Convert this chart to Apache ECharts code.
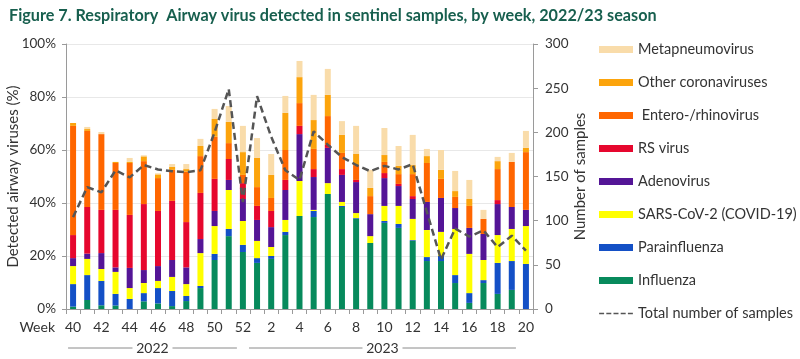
<!DOCTYPE html>
<html><head><meta charset="utf-8">
<script src="https://cdn.jsdelivr.net/npm/echarts@6/dist/echarts.min.js"></script>
<style>html,body{margin:0;padding:0;background:#fff}#c{width:800px;height:359px}</style>
</head><body><div id="c"></div>
<script>
const weeks = ['40','41','42','43','44','45','46','47','48','49','50','51','52','1','2','3','4','5','6','7','8','9','10','11','12','13','14','15','16','17','18','19','20'];
const influenza     = [0.9,3.4,1.4,1.3,0,2.9,2.1,1.1,3.0,7.9,18.5,27.5,21.5,17.4,18.9,27.9,35.1,34.7,43.4,38.5,34.0,24.9,32.5,30.6,25.7,18.1,18.1,9.8,2.3,9.8,5.7,7.2,0];
const parainfluenza = [8.5,9.4,9.2,4.4,3.8,3.1,5.8,5.7,1.9,0.8,2.3,2.7,2.7,1.8,1.1,1.2,0,2.3,0,0.4,0.3,0,0.7,1.5,0.3,1.5,1.9,3.0,3.7,1.1,11.7,10.9,17.0];
const sarsCov2      = [6.8,6.1,4.5,8.3,4.1,3.8,2.7,5.3,4.5,12.4,10.5,14.7,9.0,6.5,3.4,4.5,13.2,0.4,4.1,1.5,1.9,2.6,5.7,6.8,8.0,10.2,9.1,17.4,14.8,7.6,10.5,12.1,14.3];
const adenovirus    = [3.0,2.0,6.0,1.7,7.6,4.9,5.6,6.4,6.3,5.3,5.7,3.8,8.3,7.9,7.5,11.3,17.7,12.4,13.3,10.2,11.7,8.3,10.5,7.5,7.5,10.6,12.8,7.9,9.8,9.8,11.7,8.3,6.1];
const rsVirus       = [8.7,17.6,16.3,21.7,20.0,24.9,20.8,22.3,17.1,17.4,12.1,7.9,6.0,5.3,6.1,3.8,3.1,3.0,1.1,2.2,0.8,0,1.9,0.8,1.1,0,0,0,0,0,1.5,0,0];
const enteroRhino   = [41.2,28.7,28.6,17.7,19.6,16.2,12.4,11.7,19.0,13.9,15.9,6.0,3.1,7.1,4.9,11.3,8.6,7.6,10.9,6.1,5.6,6.8,4.2,3.7,8.3,14.7,7.2,4.2,8.3,5.7,11.7,17.0,21.8];
const otherCorona   = [1.1,0.7,0,0.4,0.4,1.8,1.4,1.1,1.0,3.8,6.7,8.0,8.6,11.0,8.7,14.0,9.8,10.9,8.0,6.8,4.2,3.1,2.6,3.1,3.4,2.6,3.4,2.2,2.6,0,3.0,0,1.6];
const metapneumo    = [0,0.8,0.8,0,1.5,0.4,0.4,1.1,1.9,2.7,3.8,6.0,9.9,7.5,7.9,6.4,6.1,9.5,9.8,5.2,10.6,6.8,10.2,7.5,11.4,2.7,7.5,7.6,7.2,3.4,1.6,3.4,6.4];
const totalSamples  = [104,138,132,157,149,163,158,156,155,157,200,249,121,241,195,157,146,201,186,172,163,156,162,158,164,110,56,91,82,89,70,83,66];

const FONT = 'Lato';
const TXT = '#333333';
const barSeries = [
  ['Influenza', influenza, '#078a5c'],
  ['Parainfluenza', parainfluenza, '#1450c6'],
  ['SARS-CoV-2 (COVID-19)', sarsCov2, '#ffff00'],
  ['Adenovirus', adenovirus, '#541596'],
  ['RS virus', rsVirus, '#e6072e'],
  [' Entero-/rhinovirus', enteroRhino, '#ff6600'],
  ['Other coronaviruses', otherCorona, '#fca40c'],
  ['Metapneumovirus', metapneumo, '#f9dcaa']
].map(([name, data, color]) => ({
  name, type: 'bar', stack: 'v', data, barWidth: 6,
  itemStyle: { color }, yAxisIndex: 0
}));

const series = barSeries.concat([{
  name: 'Total number of samples', type: 'line', yAxisIndex: 1, data: totalSamples,
  symbol: 'none', smooth: false, z: 10,
  lineStyle: { color: '#555555', width: 2.5, type: [7, 4] },
  itemStyle: { color: '#555555' }
}]);

const dashIcon = 'path://M0,0h0.01v0.01h-0.01z M0,7h0.01v0.01h-0.01z M0,2.7h5v1.6h-5z M7.2,2.7h5v1.6h-5z M14.4,2.7h5v1.6h-5z M21.6,2.7h5v1.6h-5z M28.8,2.7h5v1.6h-5z';

const chart = echarts.init(document.getElementById('c'), null, { renderer: 'canvas' });
chart.setOption({
  animation: false,
  textStyle: { fontFamily: FONT },
  title: {
    text: 'Figure 7. Respiratory  Airway virus detected in sentinel samples, by week, 2022/23 season',
    left: 4, top: 3,
    textStyle: { fontFamily: FONT, fontSize: 16.2, fontWeight: 'bold', color: '#175f4e' }
  },
  grid: { left: 66, right: 267, top: 44, bottom: 50, containLabel: false, outerBoundsMode: 'none' },
  legend: {
    orient: 'vertical', left: 599, top: 42, padding: 0,
    itemWidth: 34, itemHeight: 7, itemGap: 18,
    textStyle: { fontFamily: FONT, fontSize: 14.5, color: TXT, lineHeight: 14 },
    data: [
      { name: 'Metapneumovirus', icon: 'rect' },
      { name: 'Other coronaviruses', icon: 'rect' },
      { name: ' Entero-/rhinovirus', icon: 'rect' },
      { name: 'RS virus', icon: 'rect' },
      { name: 'Adenovirus', icon: 'rect' },
      { name: 'SARS-CoV-2 (COVID-19)', icon: 'rect' },
      { name: 'Parainfluenza', icon: 'rect' },
      { name: 'Influenza', icon: 'rect' },
      { name: 'Total number of samples', icon: dashIcon, itemStyle: { color: '#555555', borderWidth: 0 } }
    ]
  },
  xAxis: {
    type: 'category', data: weeks, boundaryGap: true,
    axisLine: { lineStyle: { color: '#9a9a9a', width: 1 } },
    axisTick: { show: true, interval: 0, length: 5, lineStyle: { color: '#9a9a9a' } },
    axisLabel: { interval: 1, margin: 11, fontFamily: FONT, fontSize: 14, color: TXT }
  },
  yAxis: [{
    type: 'value', min: 0, max: 100, interval: 20,
    name: 'Detected airway viruses (%)', nameLocation: 'middle', nameGap: 45, nameMoveOverlap: false,
    nameTextStyle: { fontFamily: FONT, fontSize: 15, color: TXT },
    axisLine: { show: true, lineStyle: { color: '#9a9a9a' } },
    axisTick: { show: true, length: 4, lineStyle: { color: '#9a9a9a' } },
    axisLabel: { formatter: v => v + '%', margin: 10, fontFamily: FONT, fontSize: 13.5, color: TXT },
    splitLine: { lineStyle: { color: '#e8e8e8' } }
  }, {
    type: 'value', min: 0, max: 300, interval: 50, position: 'right',
    name: 'Number of samples', nameLocation: 'middle', nameGap: 40, nameRotate: 90, nameMoveOverlap: false,
    nameTextStyle: { fontFamily: FONT, fontSize: 15, color: TXT },
    axisLine: { show: true, lineStyle: { color: '#9a9a9a' } },
    axisTick: { show: true, length: 5, lineStyle: { color: '#9a9a9a' } },
    axisLabel: { margin: 12, fontFamily: FONT, fontSize: 13.5, color: TXT },
    splitLine: { show: false }
  }],
  series
});

function drawYears() {
  const y = 348;
  const px = w => chart.convertToPixel({ xAxisIndex: 0 }, w);
  const x0 = px('40') - 5;
  const x1 = px('52') - 6;
  const x2 = px('1') - 8;
  const x3 = px('20') - 10;
  const mk = (a, b, label) => {
    const c = (a + b) / 2;
    const hw = 20;
    return [
      { type: 'line', shape: { x1: a, y1: y, x2: c - hw, y2: y }, style: { stroke: '#8a8a8a', lineWidth: 1 } },
      { type: 'line', shape: { x1: c + hw, y1: y, x2: b, y2: y }, style: { stroke: '#8a8a8a', lineWidth: 1 } },
      { type: 'text', x: c, y: y, style: { text: label, fill: TXT, font: '14px ' + FONT, textAlign: 'center', textVerticalAlign: 'middle' } }
    ];
  };
  chart.setOption({
    graphic: [
      { type: 'text', x: 55, y: 327, style: { text: 'Week', fill: TXT, font: '14px ' + FONT, textAlign: 'right', textVerticalAlign: 'middle' } }
    ].concat(mk(x0, x1, '2022'), mk(x2, x3, '2023'))
  });
}
drawYears();
</script>
</body></html>
